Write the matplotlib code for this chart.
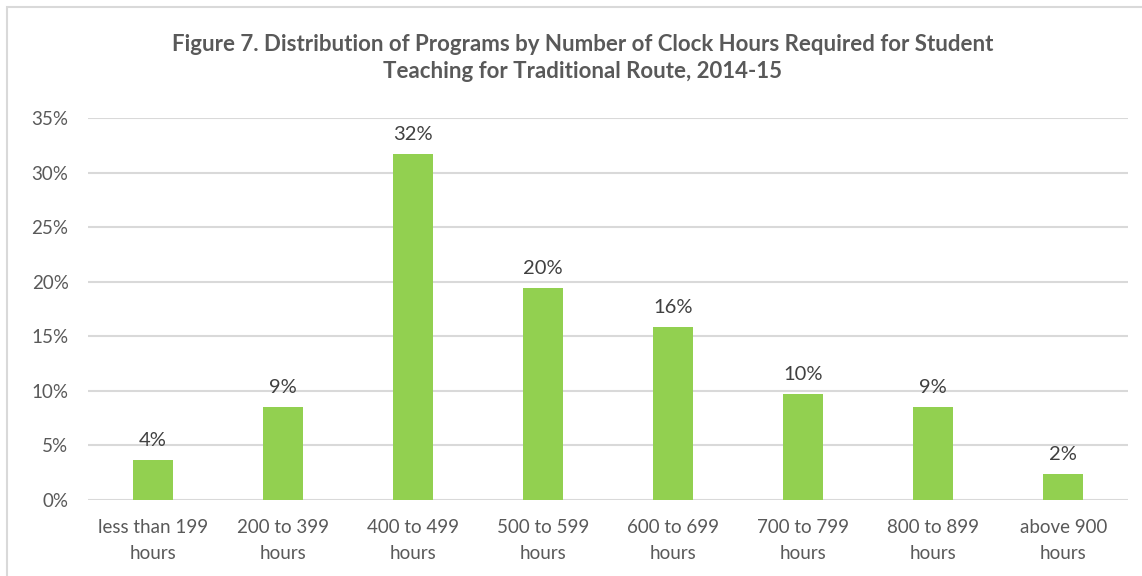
import matplotlib.pyplot as plt
from matplotlib.patches import Rectangle

# dados
categorias = ['less than 199\nhours', '200 to 399\nhours', '400 to 499\nhours',
              '500 to 599\nhours', '600 to 699\nhours', '700 to 799\nhours',
              '800 to 899\nhours', 'above 900\nhours']
valores = [3.65, 8.55, 31.7, 19.45, 15.85, 9.7, 8.55, 2.4]
rotulos = ['4%', '9%', '32%', '20%', '16%', '10%', '9%', '2%']
yticks = [0, 5, 10, 15, 20, 25, 30, 35]

plt.rcParams['font.family'] = ['Lato', 'DejaVu Sans']

fig = plt.figure(figsize=(11.42, 5.76), dpi=100)
ax = fig.add_axes([0.077, 0.132, 0.911, 0.663])

x = list(range(len(categorias)))
ax.bar(x, valores, width=0.31, color='#92D050', zorder=3)

for xi, v, r in zip(x, valores, rotulos):
    ax.annotate(r, (xi, v), xytext=(0, 8), textcoords='offset points',
                ha='center', va='bottom', fontsize=14.5, color='#404040')

ax.set_xlim(-0.5, len(categorias) - 0.5)
ax.set_ylim(0, 35)
ax.set_yticks(yticks)
ax.set_yticklabels([f'{t}%' for t in yticks])
ax.set_xticks(x)
ax.set_xticklabels(categorias, linespacing=1.6)
ax.tick_params(axis='both', length=0, labelsize=13.5, colors='#595959')
ax.tick_params(axis='x', pad=14)
ax.tick_params(axis='y', pad=14)
ax.grid(axis='y', color='#D9D9D9', linewidth=1.5, zorder=0)
for s in ax.spines.values():
    s.set_visible(False)

fig.text(0.51, 0.90, 'Figure 7. Distribution of Programs by Number of Clock Hours Required for Student\n'
         'Teaching for Traditional Route, 2014-15', ha='center', va='center',
         fontsize=16, fontweight='bold', color='#595959', linespacing=1.35)

# borda do grafico
fig.patches.append(Rectangle((0.006, -0.01), 1.0, 0.998, transform=fig.transFigure,
                             fill=False, edgecolor='#D9D9D9', linewidth=1.5))

fig.savefig('out.png', dpi=100)
